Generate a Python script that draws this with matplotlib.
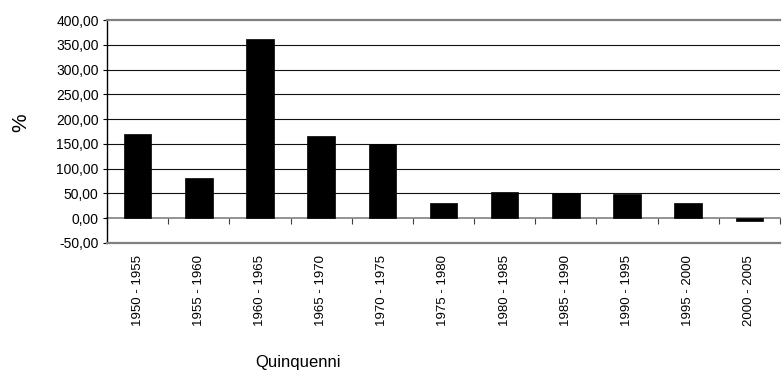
import matplotlib
matplotlib.use('Agg')
import matplotlib.pyplot as plt
import matplotlib.ticker as ticker
import numpy as np

plt.rcParams['font.family'] = ['Liberation Sans', 'DejaVu Sans']

# Variazione percentuale per quinquennio
periods = ['1950 - 1955', '1955 - 1960', '1960 - 1965', '1965 - 1970',
           '1970 - 1975', '1975 - 1980', '1980 - 1985', '1985 - 1990',
           '1990 - 1995', '1995 - 2000', '2000 - 2005']
values = [169, 81, 362, 166, 150, 31, 53, 51, 49, 31, -6]
y_ticks = [-50, 0, 50, 100, 150, 200, 250, 300, 350, 400]

ymin, ymax = -50, 400
frame_grey = '#808080'

fig = plt.figure(figsize=(7.82, 3.75), dpi=100)
ax = fig.add_axes([107 / 782, 1 - 243 / 375, 673 / 782, 223 / 375])

x = np.arange(len(periods))
ax.bar(x, values, width=0.45, color='black', edgecolor='black',
       linewidth=0.5, zorder=3)

ax.set_xlim(-0.5, len(periods) - 0.5)
ax.set_ylim(ymin, ymax)

# horizontal gridlines (not at the bottom, not at zero)
for v in y_ticks:
    if v in (ymin, ymax, 0):
        continue
    ax.axhline(v, color='#111111', linewidth=0.8, zorder=1)

# category axis crossing at zero, with ticks between categories
zero_pos = (0 - ymin) / float(ymax - ymin)
sec = ax.secondary_xaxis(zero_pos)
sec.set_xticks(np.arange(len(periods) + 1) - 0.5)
sec.tick_params(axis='x', direction='out', length=4, width=0.8,
                colors='#404040', labelbottom=False, labeltop=False,
                bottom=True, top=False)
sec.spines['bottom'].set_color(frame_grey)
sec.spines['bottom'].set_linewidth(1.2)
for s in ('top', 'left', 'right'):
    sec.spines[s].set_visible(False)

# labels sit below the plot area
ax.set_xticks(x)
ax.set_xticklabels(periods, rotation=90, fontsize=9.5)
ax.tick_params(axis='x', length=0, pad=9)

ax.set_yticks(y_ticks)
ax.yaxis.set_major_formatter(
    ticker.FuncFormatter(lambda v, pos: '{0:.2f}'.format(v).replace('.', ','))
)
ax.tick_params(axis='y', direction='out', length=3, width=0.8,
               labelsize=10, pad=3)

ax.spines['left'].set_color('black')
ax.spines['left'].set_linewidth(1.0)
ax.spines['top'].set_color(frame_grey)
ax.spines['top'].set_linewidth(1.6)
ax.spines['bottom'].set_color(frame_grey)
ax.spines['bottom'].set_linewidth(1.6)
ax.spines['right'].set_visible(False)

fig.text(21 / 782, 1 - 123 / 375, '%', rotation=90, fontsize=15,
         ha='center', va='center')
fig.text(298 / 782, 1 - 362 / 375, 'Quinquenni', fontsize=12,
         ha='center', va='center')

fig.savefig('out.png', dpi=100)
